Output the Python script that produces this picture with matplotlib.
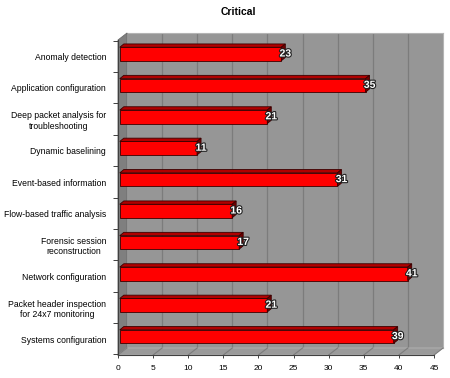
import matplotlib
matplotlib.use("Agg")
import matplotlib.pyplot as plt
from matplotlib.patches import Polygon
from matplotlib.lines import Line2D
from matplotlib.transforms import ScaledTranslation
import matplotlib.patheffects as pe
import numpy as np

plt.rcParams['font.family'] = ['Liberation Sans', 'DejaVu Sans']

title = "Critical"
categories = [
    "Anomaly detection",
    "Application configuration",
    "Deep packet analysis for\ntroubleshooting",
    "Dynamic baselining",
    "Event-based information",
    "Flow-based traffic analysis",
    "Forensic session\nreconstruction",
    "Network configuration",
    "Packet header inspection\nfor 24x7 monitoring",
    "Systems configuration",
]
values = [23, 35, 21, 11, 31, 16, 17, 41, 21, 39]
x_ticks = [0, 5, 10, 15, 20, 25, 30, 35, 40, 45]

W, H = 450, 378
fig = plt.figure(figsize=(W / 100, H / 100), dpi=100)
fig.patch.set_facecolor("white")

def fx(px):
    return px / W

def fy(py):
    return 1 - py / H

# geometry (pixels)
FL, FR, FT, FB = 118, 434, 40, 355      # front plane
DX, DY = 9, 7                            # depth offset
BL, BR, BT, BB = FL + DX, FR + DX, FT - DY, FB - DY

wall_col = "#969696"
grid_col = "#7c7c7c"

# back wall
axb = fig.add_axes([fx(BL), fy(BB), (BR - BL) / W, (BB - BT) / H])
axb.set_zorder(0)
axb.set_facecolor(wall_col)
axb.set_xlim(0, 45)
axb.set_ylim(0, 1)
for v in x_ticks[1:-1]:
    axb.axvline(v, color=grid_col, lw=0.9)
axb.set_xticks([]); axb.set_yticks([])
for s in axb.spines.values():
    s.set_color("#b4b4b4"); s.set_linewidth(0.8)

# left side wall and floor
left_wall = Polygon([(fx(FL), fy(FT)), (fx(BL), fy(BT)), (fx(BL), fy(BB)), (fx(FL), fy(FB))],
                    closed=True, transform=fig.transFigure, facecolor="#7f7f7f",
                    edgecolor="#6a6a6a", lw=0.6, zorder=1)
floor = Polygon([(fx(FL), fy(FB)), (fx(BL), fy(BB)), (fx(BR), fy(BB)), (fx(FR), fy(FB))],
                closed=True, transform=fig.transFigure, facecolor="#9a9a9a",
                edgecolor="#b4b4b4", lw=0.6, zorder=1)
fig.add_artist(left_wall)
fig.add_artist(floor)
scale = (FR - FL) / 45.0
for v in x_ticks:
    xf = FL + v * scale
    xb = BL + v * scale
    fig.add_artist(Line2D([fx(xf), fx(xb)], [fy(FB), fy(BB)], transform=fig.transFigure,
                          color=grid_col, lw=0.8, zorder=1.1))

# front axes with bars
ax = fig.add_axes([fx(FL), fy(FB), (FR - FL) / W, (FB - FT) / H])
ax.set_zorder(2)
ax.patch.set_visible(False)
n = len(categories)
ytop = -0.446
ybot = 9.586
ax.set_xlim(0, 45)
ax.set_ylim(ybot, ytop)

ux = 45.0 / (FR - FL)            # data units per pixel (x)
uy = (ybot - ytop) / (FB - FT)   # data units per pixel (y)

sx = 1.8 * ux       # bar front shift
ddx = 4.0 * ux      # bar depth x
ddy = 3.3 * uy      # bar depth y
h = 0.43

ypos = np.arange(n)
ax.barh(ypos, values, height=h, left=sx, color="#ff0000", edgecolor="#3a0000", lw=0.6, zorder=3)
for i, v in enumerate(values):
    top = i - h / 2
    bot = i + h / 2
    x0 = sx
    x1 = sx + v
    ax.add_patch(Polygon([(x0, top), (x1, top), (x1 + ddx, top - ddy), (x0 + ddx, top - ddy)],
                         closed=True, facecolor="#b00000", edgecolor="#3a0000", lw=0.6, zorder=3))
    ax.add_patch(Polygon([(x1, top), (x1 + ddx, top - ddy), (x1 + ddx, bot - ddy), (x1, bot)],
                         closed=True, facecolor="#700000", edgecolor="#3a0000", lw=0.6, zorder=3))
    ax.annotate(str(v), xy=(x1 + ddx, i), xytext=(0, 0.5), textcoords="offset pixels",
                ha="center", va="center", color="white", fontsize=7.5, fontweight="bold",
                zorder=5,
                path_effects=[pe.withStroke(linewidth=1.6, foreground="#202020")])

ax.set_yticks(ypos)
ax.set_yticklabels(categories, fontsize=6.2, multialignment="center")
ax.tick_params(axis="y", which="major", length=0, pad=8.6)
shift = ScaledTranslation(0, -2.5 / 100, fig.dpi_scale_trans)
for lab in ax.get_yticklabels():
    lab.set_transform(lab.get_transform() + shift)
ax.set_yticks(np.arange(n + 1) - 0.43, minor=True)
ax.tick_params(axis="y", which="minor", length=3.5, width=0.7, color="#404040")
ax.set_xticks(x_ticks)
ax.set_xticklabels([str(t) for t in x_ticks], fontsize=6)
ax.tick_params(axis="x", length=2.5, width=0.7, color="#404040", pad=4.5)
for side in ("top", "right"):
    ax.spines[side].set_visible(False)
for side in ("left", "bottom"):
    ax.spines[side].set_color("#404040")
    ax.spines[side].set_linewidth(0.8)

fig.text(fx(238), fy(12), title, ha="center", va="center", fontsize=7.5, fontweight="bold")

fig.savefig("out.png", dpi=100)
